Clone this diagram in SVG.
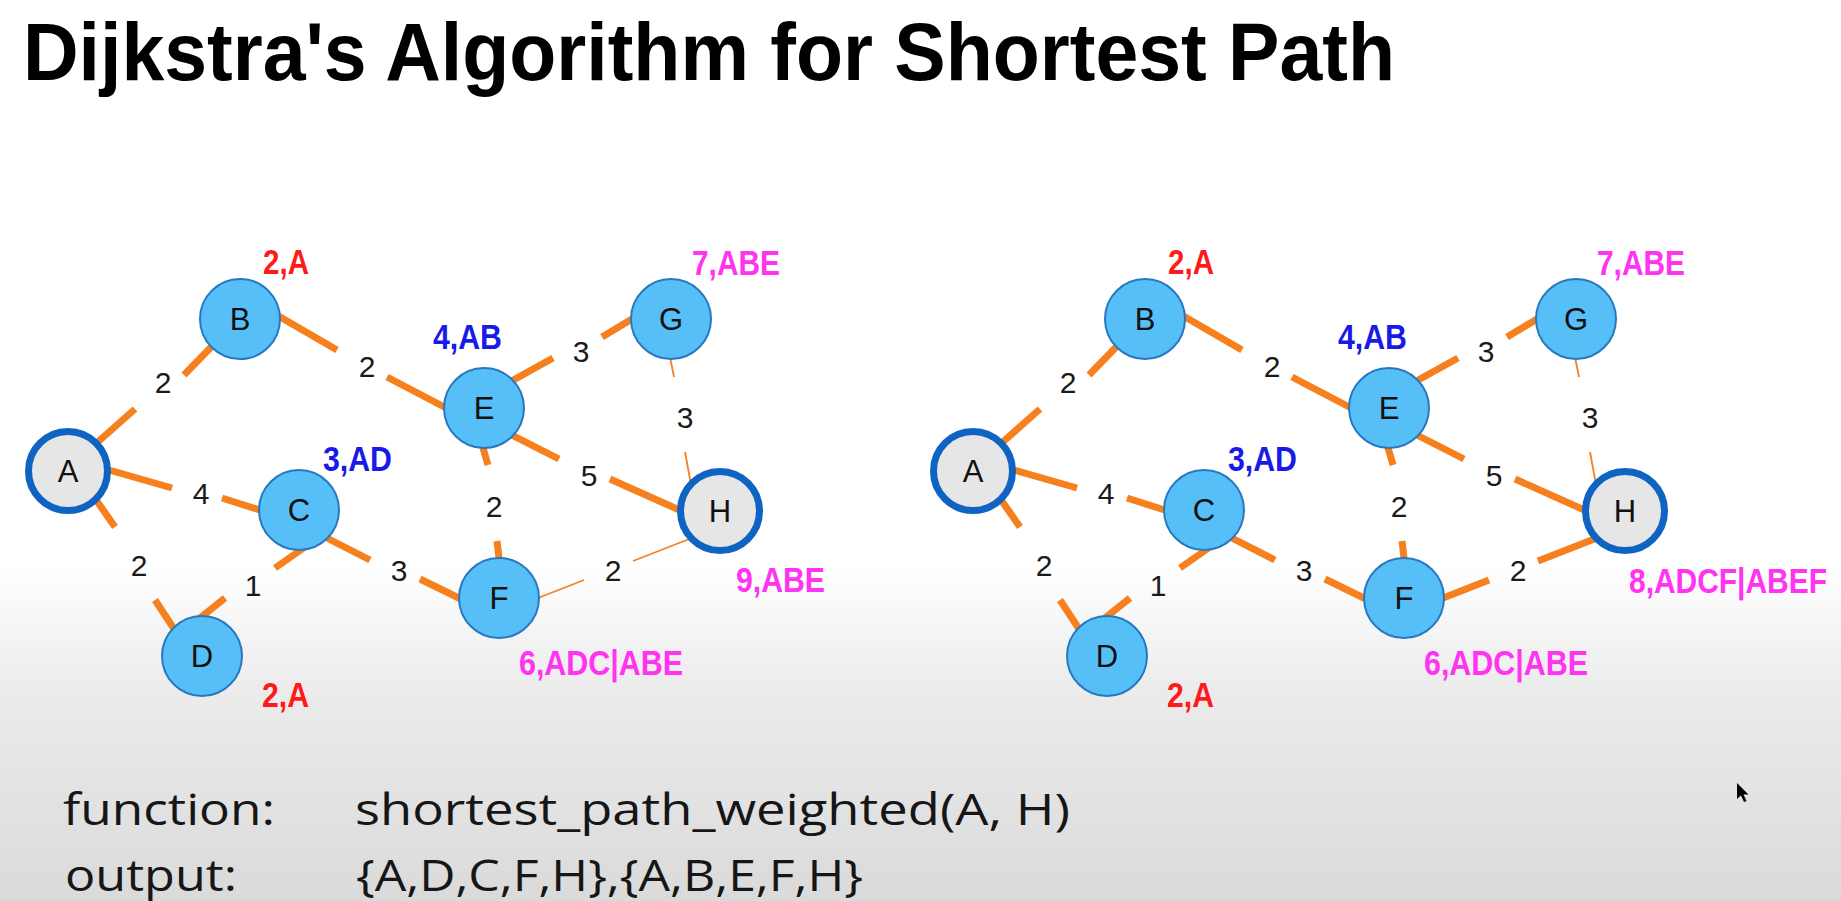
<svg xmlns="http://www.w3.org/2000/svg" width="1841" height="901" viewBox="0 0 1841 901">
<defs>
<linearGradient id="bg" x1="0" y1="0" x2="0" y2="901" gradientUnits="userSpaceOnUse">
<stop offset="0" stop-color="#ffffff"/>
<stop offset="0.63" stop-color="#ffffff"/>
<stop offset="0.76" stop-color="#ececec"/>
<stop offset="1" stop-color="#dadada"/>
</linearGradient>
<style>
.e{stroke:#f7801e;stroke-width:7;fill:none;stroke-linecap:butt}
.t{stroke-width:1.8}
.n circle{fill:#57bff8;stroke:#2878c0;stroke-width:2}
.n.end circle{fill:#e6e6e6;stroke:#0f63c3;stroke-width:7}
.nl{font-family:"Liberation Sans",Arial,sans-serif;font-size:31px;text-anchor:middle;fill:#111}
.w{font-family:"Liberation Sans",Arial,sans-serif;font-size:30px;text-anchor:middle;fill:#1a1a1a}
.d{font-family:"Liberation Sans",Arial,sans-serif;font-weight:bold;font-size:35px}
.red{fill:#ff1a1a}
.blue{fill:#1a1ae8}
.mag{fill:#ff33f0}
.code{font-family:"Open Sans","Liberation Sans",sans-serif;font-size:43px;fill:#161616}
</style>
</defs>
<rect x="0" y="0" width="1841" height="901" fill="url(#bg)"/>
<text x="23" y="80" font-family="Liberation Sans, Arial, sans-serif" font-weight="bold" font-size="82" textLength="1372" lengthAdjust="spacingAndGlyphs" fill="#000">Dijkstra's Algorithm for Shortest Path</text>

<g id="connectors">
<g id="edges-left">
<line class="e" x1="91" y1="448" x2="135" y2="409"/>
<line class="e" x1="184" y1="375" x2="217" y2="341"/>
<line class="e" x1="275" y1="314" x2="337" y2="350"/>
<line class="e" x1="387" y1="377" x2="450" y2="410"/>
<line class="e" x1="102" y1="468" x2="172" y2="488"/>
<line class="e" x1="222" y1="498" x2="266" y2="512"/>
<line class="e" x1="92" y1="494" x2="115" y2="527"/>
<line class="e" x1="155" y1="600" x2="178" y2="635"/>
<line class="e" x1="195" y1="622" x2="225" y2="598"/>
<line class="e" x1="275" y1="568" x2="305" y2="547"/>
<line class="e" x1="321" y1="535" x2="370" y2="560"/>
<line class="e" x1="420" y1="579" x2="467" y2="602"/>
<line class="e" x1="506" y1="384" x2="553" y2="358"/>
<line class="e" x1="602" y1="337" x2="637" y2="316"/>
<line class="e t" x1="669" y1="352" x2="674" y2="377"/>
<line class="e t" x1="685" y1="452" x2="692" y2="490"/>
<line class="e" x1="508" y1="433" x2="559" y2="459"/>
<line class="e" x1="610" y1="479" x2="686" y2="513"/>
<line class="e" x1="481" y1="441" x2="488" y2="465"/>
<line class="e" x1="497" y1="541" x2="500" y2="566"/>
<line class="e t" x1="533" y1="600" x2="584" y2="580"/>
<line class="e t" x1="633" y1="561" x2="697" y2="536"/>
</g>
<g id="edges-right" transform="translate(905,0)">
<line class="e" x1="91" y1="448" x2="135" y2="409"/>
<line class="e" x1="184" y1="375" x2="217" y2="341"/>
<line class="e" x1="275" y1="314" x2="337" y2="350"/>
<line class="e" x1="387" y1="377" x2="450" y2="410"/>
<line class="e" x1="102" y1="468" x2="172" y2="488"/>
<line class="e" x1="222" y1="498" x2="266" y2="512"/>
<line class="e" x1="92" y1="494" x2="115" y2="527"/>
<line class="e" x1="155" y1="600" x2="178" y2="635"/>
<line class="e" x1="195" y1="622" x2="225" y2="598"/>
<line class="e" x1="275" y1="568" x2="305" y2="547"/>
<line class="e" x1="321" y1="535" x2="370" y2="560"/>
<line class="e" x1="420" y1="579" x2="467" y2="602"/>
<line class="e" x1="506" y1="384" x2="553" y2="358"/>
<line class="e" x1="602" y1="337" x2="637" y2="316"/>
<line class="e t" x1="669" y1="352" x2="674" y2="377"/>
<line class="e t" x1="685" y1="452" x2="692" y2="490"/>
<line class="e" x1="508" y1="433" x2="559" y2="459"/>
<line class="e" x1="610" y1="479" x2="686" y2="513"/>
<line class="e" x1="481" y1="441" x2="488" y2="465"/>
<line class="e" x1="497" y1="541" x2="500" y2="566"/>
<line class="e" x1="533" y1="600" x2="584" y2="580"/>
<line class="e" x1="633" y1="561" x2="697" y2="536"/>
</g>
<g id="weights-left">
<text class="w" x="163" y="393">2</text>
<text class="w" x="367" y="377">2</text>
<text class="w" x="201" y="504">4</text>
<text class="w" x="139" y="576">2</text>
<text class="w" x="253" y="596">1</text>
<text class="w" x="399" y="581">3</text>
<text class="w" x="581" y="362">3</text>
<text class="w" x="685" y="428">3</text>
<text class="w" x="589" y="486">5</text>
<text class="w" x="494" y="517">2</text>
<text class="w" x="613" y="581">2</text>
</g>
<g id="weights-right" transform="translate(905,0)">
<text class="w" x="163" y="393">2</text>
<text class="w" x="367" y="377">2</text>
<text class="w" x="201" y="504">4</text>
<text class="w" x="139" y="576">2</text>
<text class="w" x="253" y="596">1</text>
<text class="w" x="399" y="581">3</text>
<text class="w" x="581" y="362">3</text>
<text class="w" x="685" y="428">3</text>
<text class="w" x="589" y="486">5</text>
<text class="w" x="494" y="517">2</text>
<text class="w" x="613" y="581">2</text>
</g>
</g>

<g id="L-A" class="n end" transform="translate(68,471)"><circle r="39.5"/><text class="nl" y="11">A</text></g>
<g id="L-B" class="n" transform="translate(240,319)"><circle r="40"/><text class="nl" y="11">B</text></g>
<g id="L-C" class="n" transform="translate(299,510)"><circle r="40"/><text class="nl" y="11">C</text></g>
<g id="L-D" class="n" transform="translate(202,656)"><circle r="40"/><text class="nl" y="11">D</text></g>
<g id="L-E" class="n" transform="translate(484,408)"><circle r="40"/><text class="nl" y="11">E</text></g>
<g id="L-F" class="n" transform="translate(499,598)"><circle r="40"/><text class="nl" y="11">F</text></g>
<g id="L-G" class="n" transform="translate(671,319)"><circle r="40"/><text class="nl" y="11">G</text></g>
<g id="L-H" class="n end" transform="translate(720,511)"><circle r="39.5"/><text class="nl" y="11">H</text></g>

<g id="L-labels">
<text class="d red" x="263" y="274" textLength="46" lengthAdjust="spacingAndGlyphs">2,A</text>
<text class="d blue" x="323" y="471" textLength="69" lengthAdjust="spacingAndGlyphs">3,AD</text>
<text class="d red" x="262" y="707" textLength="47" lengthAdjust="spacingAndGlyphs">2,A</text>
<text class="d blue" x="433" y="349" textLength="69" lengthAdjust="spacingAndGlyphs">4,AB</text>
<text class="d mag" x="692" y="275" textLength="88" lengthAdjust="spacingAndGlyphs">7,ABE</text>
<text class="d mag" x="736" y="592" textLength="89" lengthAdjust="spacingAndGlyphs">9,ABE</text>
<text class="d mag" x="519" y="675" textLength="164" lengthAdjust="spacingAndGlyphs">6,ADC|ABE</text>
</g>

<g id="R-A" class="n end" transform="translate(973,471)"><circle r="39.5"/><text class="nl" y="11">A</text></g>
<g id="R-B" class="n" transform="translate(1145,319)"><circle r="40"/><text class="nl" y="11">B</text></g>
<g id="R-C" class="n" transform="translate(1204,510)"><circle r="40"/><text class="nl" y="11">C</text></g>
<g id="R-D" class="n" transform="translate(1107,656)"><circle r="40"/><text class="nl" y="11">D</text></g>
<g id="R-E" class="n" transform="translate(1389,408)"><circle r="40"/><text class="nl" y="11">E</text></g>
<g id="R-F" class="n" transform="translate(1404,598)"><circle r="40"/><text class="nl" y="11">F</text></g>
<g id="R-G" class="n" transform="translate(1576,319)"><circle r="40"/><text class="nl" y="11">G</text></g>
<g id="R-H" class="n end" transform="translate(1625,511)"><circle r="39.5"/><text class="nl" y="11">H</text></g>

<g id="R-labels">
<text class="d red" x="1168" y="274" textLength="46" lengthAdjust="spacingAndGlyphs">2,A</text>
<text class="d blue" x="1228" y="471" textLength="69" lengthAdjust="spacingAndGlyphs">3,AD</text>
<text class="d red" x="1167" y="707" textLength="47" lengthAdjust="spacingAndGlyphs">2,A</text>
<text class="d blue" x="1338" y="349" textLength="69" lengthAdjust="spacingAndGlyphs">4,AB</text>
<text class="d mag" x="1597" y="275" textLength="88" lengthAdjust="spacingAndGlyphs">7,ABE</text>
<text class="d mag" x="1629" y="593" textLength="198" lengthAdjust="spacingAndGlyphs">8,ADCF|ABEF</text>
<text class="d mag" x="1424" y="675" textLength="164" lengthAdjust="spacingAndGlyphs">6,ADC|ABE</text>
</g>

<g id="caption">
<text class="code" x="63" y="825" textLength="212" lengthAdjust="spacingAndGlyphs">function:</text>
<text class="code" x="355" y="825" textLength="715" lengthAdjust="spacingAndGlyphs">shortest_path_weighted(A, H)</text>
<text class="code" x="65" y="891" textLength="172" lengthAdjust="spacingAndGlyphs">output:</text>
<text class="code" x="356" y="891" textLength="507" lengthAdjust="spacingAndGlyphs">{A,D,C,F,H},{A,B,E,F,H}</text>
</g>

<g id="cursor" transform="translate(1737,783)">
<path d="M0,0 L0,16 L4,12.5 L7,19 L9.5,18 L6.5,11.5 L11.5,11.5 Z" fill="#000"/>
</g>
</svg>
